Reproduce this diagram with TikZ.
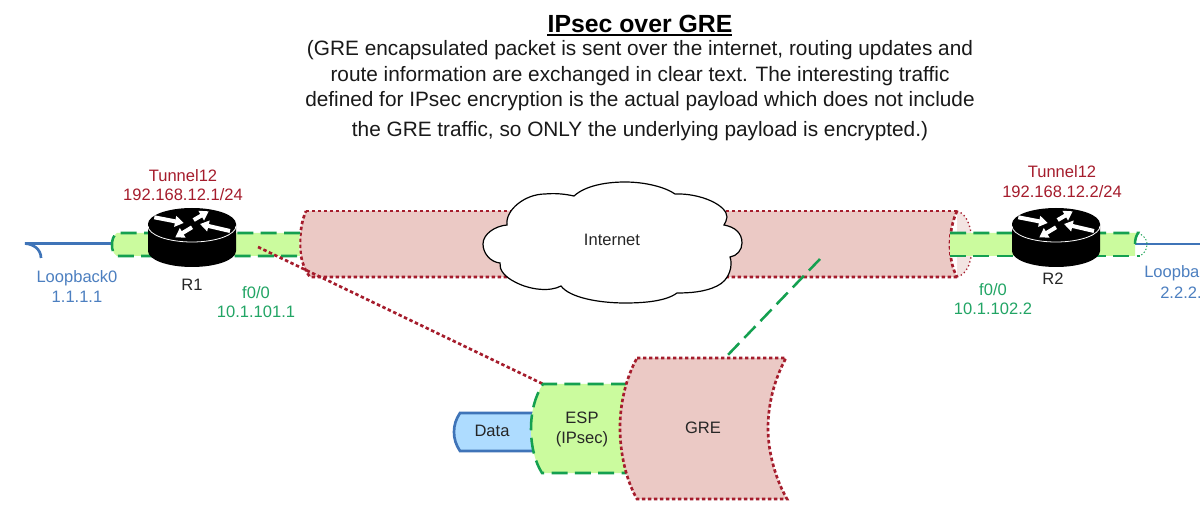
\documentclass[tikz,border=0pt]{standalone}
\usepackage{fontspec}
\setmainfont{Liberation Sans}
\usetikzlibrary{arrows.meta}
\definecolor{redl}{HTML}{A51C2C}
\definecolor{pinkf}{HTML}{EBC9C5}
\definecolor{pinkl}{HTML}{F3E4E2}
\definecolor{greenf}{HTML}{CBFB9E}
\definecolor{greenl}{HTML}{14A050}
\definecolor{greent}{HTML}{22A565}
\definecolor{bluel}{HTML}{3F74B8}
\definecolor{bluet}{HTML}{4C7FC0}
\definecolor{dataf}{HTML}{AEDCFF}
\tikzset{
  x=0.75pt,y=-0.75pt,
  reddot/.style={draw=redl,line width=2pt,dash pattern=on 2.6pt off 1.9pt},
  redthin/.style={draw=redl,line width=1pt,dash pattern=on 1pt off 2pt},
  greendash/.style={draw=greenl,line width=1.9pt,dash pattern=on 12pt off 5.5pt},
  bluewire/.style={draw=bluel,line width=2pt},
  lbl/.style={font=\fontsize{12.4pt}{14pt}\selectfont,inner sep=0pt,align=center},
  redt/.style={lbl,text=redl},
  greent/.style={lbl,text=greent},
  bluet/.style={lbl,text=bluet},
  blk/.style={lbl,text=black!85},
  para/.style={font=\fontsize{15.6pt}{18pt}\selectfont,inner sep=0pt,text=black!90},
  rarrow/.style={draw=white,line width=3pt,-{Triangle[width=8pt,length=6.5pt]}},
  router/.pic={
    \fill[black] (-44,16) -- (-44,43) arc[x radius=44,y radius=16,start angle=180,end angle=0] -- (44,16) -- cycle;
    \fill[black] (0,16) ellipse[x radius=44,y radius=16];
    \draw[white,line width=0.6pt] (-44,18) arc[x radius=44,y radius=16,start angle=180,end angle=0];
    \draw[rarrow] (-37.7,9.3) -- (-8.3,15);
    \draw[rarrow] (1.7,12) -- (16.7,3.3);
    \draw[rarrow] (38,23) -- (8,16);
    \draw[rarrow] (0,19.3) -- (-16.7,29.3);
  }
}
\begin{document}
\begin{tikzpicture}
\useasboundingbox (0,0) rectangle (1200,520);
\clip (0,0) rectangle (1200,520);
\fill[white] (0,0) rectangle (1200,520);

% titles
\node[inner sep=0pt,font=\fontsize{18.6pt}{20pt}\selectfont\bfseries] (title) at (640,24) {IPsec over GRE};
\draw[black,line width=1.2pt] (547,35) -- (732,35);
\node[para] (l1) at (640,50) {(GRE encapsulated packet is sent over the internet, routing updates and};
\node[para] (l2) at (640,76) {route information are exchanged in clear text. The interesting traffic};
\node[para] (l3) at (640,101) {defined for IPsec encryption is the actual payload which does not include};
\node[para] (l4) at (640,131) {the GRE traffic, so ONLY the underlying payload is encrypted.)};

% blue wires
\draw[bluewire] (112,243.5) -- (25,243.5) .. controls (33,244) and (41,249) .. (41,258);
\draw[bluewire] (1135,244) -- (1200,244);

% red tube
\fill[pinkl] (957,211) .. controls (968,214) and (972,230) .. (972,245) .. controls (972,260) and (968,274) .. (957,277) -- cycle;
\draw[redthin] (957,211) .. controls (968,214) and (972,230) .. (972,245) .. controls (972,260) and (968,274) .. (957,277);
\path[fill=pinkf] (306,211) -- (957,211) .. controls (952,222) and (950,234) .. (950,245) .. controls (950,256) and (952,268) .. (957,277) -- (310,277) .. controls (303,268) and (300,256) .. (300,244) .. controls (300,232) and (302,220) .. (306,211) -- cycle;
\draw[reddot] (306,211) -- (957,211);
\draw[reddot] (957,211) .. controls (952,222) and (950,234) .. (950,245) .. controls (950,256) and (952,268) .. (957,277);
\draw[reddot] (957,277) -- (310,277) .. controls (303,268) and (300,256) .. (300,244) .. controls (300,232) and (302,220) .. (306,211);

% green tubes
\fill[greenf] (117,233) .. controls (113,236) and (112,240) .. (112,245) .. controls (112,250) and (113,253) .. (117,256) -- (300,256) .. controls (299,248) and (299,240) .. (300,233) -- cycle;
\draw[greendash] (300,233) -- (117,233) .. controls (113,236) and (112,240) .. (112,245) .. controls (112,250) and (113,253) .. (117,256) -- (300,256);
\fill[greenf] (950,233) -- (1138,233) .. controls (1135,236) and (1135,240) .. (1135,244) -- (1135,256) -- (950,256) -- cycle;
\draw[greendash] (950,233) -- (1138,233) .. controls (1136,236) and (1135,240) .. (1135,244);
\draw[greendash] (950,256) -- (1140,256);
\draw[draw=greenl,line width=0.7pt,dash pattern=on 1pt off 1.5pt] (1138,233) .. controls (1145,236) and (1147,240) .. (1147,244) .. controls (1147,249) and (1145,253) .. (1140,256);

% routers
\pic (r1) at (192,208) {router};
\pic (r2) at (1056,208) {router};

% anchor points of the connectors
\coordinate (r1tap) at (258,247);
\coordinate (tubetap) at (820,259);
\coordinate (esptop) at (543,384);
\coordinate (gretop) at (725,358);

% cloud
\draw[fill=white,draw=black,line width=0.9pt] (574,196)
  .. controls (585,186) and (605,182) .. (625,182)
  .. controls (645,182) and (665,187) .. (675,194)
  .. controls (700,193) and (727,205) .. (727,217)
  .. controls (727,220) and (725,223) .. (724,225)
  .. controls (735,227) and (742,233) .. (742,243)
  .. controls (742,250) and (737,256) .. (730,257)
  .. controls (733,265) and (730,280) .. (717,286)
  .. controls (705,292) and (690,293) .. (677,293)
  .. controls (665,302) and (640,303) .. (625,303)
  .. controls (600,303) and (570,298) .. (561,286)
  .. controls (550,292) and (530,290) .. (515,282)
  .. controls (505,277) and (499,270) .. (500,263)
  .. controls (490,262) and (483,253) .. (483,244)
  .. controls (483,234) and (495,226) .. (507,225)
  .. controls (505,210) and (525,194) .. (545,194)
  .. controls (555,193) and (565,194) .. (574,196) -- cycle;
\node[blk] (inet) at (612,240) {Internet};

% connectors
\draw[greendash] (tubetap) -- (gretop);
\draw[reddot] (r1tap) -- (esptop);

% encapsulation
\draw[fill=dataf,bluewire] (533,413) -- (460,413) .. controls (456,419) and (454,425) .. (454,432) .. controls (454,439) and (456,445) .. (460,451) -- (533,451);
\fill[greenf] (543,384) -- (630,384) -- (630,473) -- (542,473) .. controls (535,462) and (531,446) .. (531,429) .. controls (531,412) and (535,396) .. (543,384) -- cycle;
\draw[greendash] (627,384) -- (543,384) .. controls (535,396) and (531,412) .. (531,429) .. controls (531,446) and (535,462) .. (542,473) -- (627,473);
\path[fill=pinkf] (637,358) -- (786,358) .. controls (775,378) and (768,403) .. (768,428) .. controls (768,453) and (776,480) .. (787,499) -- (637,499) .. controls (626,480) and (620,453) .. (620,428) .. controls (620,403) and (626,378) .. (637,358) -- cycle;
\draw[reddot] (637,358) -- (786,358) .. controls (775,378) and (768,403) .. (768,428) .. controls (768,453) and (776,480) .. (787,499) -- (637,499) .. controls (626,480) and (620,453) .. (620,428) .. controls (620,403) and (626,378) .. (637,358) -- cycle;
\node[blk] (data) at (492,431) {Data};
\node[blk] (esp) at (582,418) {ESP};
\node[blk] (ipsec) at (582,439) {(IPsec)};
\node[blk] (gre) at (703,428) {GRE};

% labels
\node[redt] (t1a) at (183,176) {Tunnel12};
\node[redt] (t1b) at (183,195) {192.168.12.1/24};
\node[redt] (t2a) at (1062,172) {Tunnel12};
\node[redt] (t2b) at (1062,192) {192.168.12.2/24};
\node[bluet] (lo1a) at (77,278) {Loopback0};
\node[bluet] (lo1b) at (77,297) {1.1.1.1};
\node[bluet,anchor=west] (lo2a) at (1144,273) {Loopback0};
\node[bluet,anchor=west] (lo2b) at (1160,293) {2.2.2.2};
\node[blk] (r1l) at (192,285) {R1};
\node[blk] (r2l) at (1053,279) {R2};
\node[greent] (f1a) at (256,293) {f0/0};
\node[greent] (f1b) at (256,312) {10.1.101.1};
\node[greent] (f2a) at (993,290) {f0/0};
\node[greent] (f2b) at (993,309) {10.1.102.2};
\end{tikzpicture}
\end{document}
